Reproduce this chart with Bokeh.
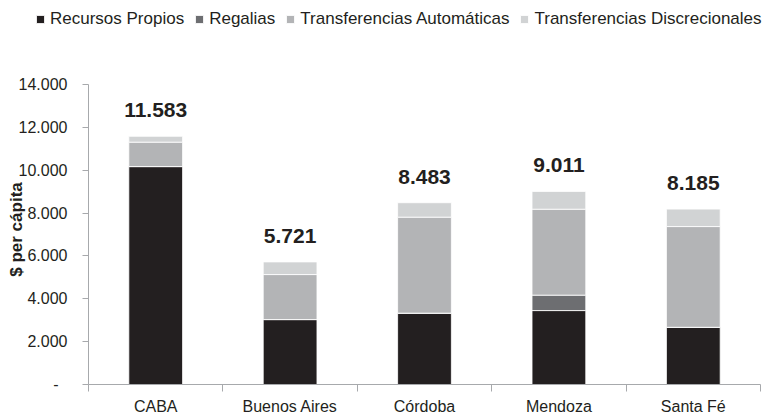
import math
from bokeh.plotting import figure
from bokeh.models import (Range1d, FixedTicker, Legend, LegendItem, Label,
                          LabelSet, ColumnDataSource)
from bokeh.core.properties import value
from bokeh.embed import file_html
from bokeh.resources import INLINE

categories = ["CABA", "Buenos Aires", "Córdoba", "Mendoza", "Santa Fé"]
recursos_propios = [10170, 3030, 3330, 3450, 2670]
regalias = [0, 0, 0, 720, 0]
transf_automaticas = [1140, 2100, 4480, 4010, 4700]
transf_discrecionales = [273, 591, 673, 831, 815]
totales = [11583, 5721, 8483, 9011, 8185]
total_labels = ["11.583", "5.721", "8.483", "9.011", "8.185"]
y_ticks = [0, 2000, 4000, 6000, 8000, 10000, 12000, 14000]
y_tick_labels = ["-\u00a0\u00a0", "2.000", "4.000", "6.000", "8.000", "10.000", "12.000", "14.000"]
y_max = 14000

series_names = ["Recursos Propios", "Regalias", "Transferencias Automáticas",
                "Transferencias Discrecionales"]
colors = ["#231F20", "#6D6E71", "#B3B4B6", "#D1D3D4"]
FONT = "Liberation Sans"
TXT = "#231F20"
AXIS = "#A7A9AC"

# layout (pixels): plot area from x=88..760, y=84..384 on a 780x416 canvas
W, H = 780, 416
L, R, T, B = 88, 760, 84, 384
n = len(categories)
px_x = (R - L) / n
px_y = (B - T) / y_max
x_range = Range1d(-L / px_x, n + (W - R) / px_x)
y_range = Range1d(-(H - B) / px_y, y_max + T / px_y)

xs = [i + 0.5 for i in range(n)]
src = ColumnDataSource(dict(x=xs, rp=recursos_propios, rg=regalias,
                            ta=transf_automaticas, td=transf_discrecionales,
                            tot=totales, lab=total_labels))

p = figure(width=W, height=H, output_backend="svg", toolbar_location=None,
           x_range=x_range, y_range=y_range,
           min_border=0, min_border_left=0, min_border_right=0,
           min_border_top=0, min_border_bottom=0)
p.outline_line_color = None
p.xgrid.visible = False
p.ygrid.visible = False
p.background_fill_color = "white"

rends = p.vbar_stack(["rp", "rg", "ta", "td"], x="x", width=0.4, source=src,
                     fill_color=colors, line_color="white", line_width=0.8)

labels = LabelSet(x="x", y="tot", text="lab", source=src, y_offset=19,
                  text_align="center", text_baseline="alphabetic",
                  text_font=value(FONT), text_font_size="21px",
                  text_font_style="bold", text_color=TXT)
p.add_layout(labels)

# x axis
xa = p.xaxis[0]
xa.fixed_location = 0
xa.bounds = (0, n)
xa.ticker = FixedTicker(ticks=xs, minor_ticks=list(range(n + 1)))
xa.major_label_overrides = {x: c for x, c in zip(xs, categories)}
xa.major_tick_line_color = None
xa.major_tick_out = 0
xa.major_tick_in = 0
xa.minor_tick_out = 7
xa.minor_tick_in = 0
xa.minor_tick_line_color = AXIS
xa.axis_line_color = AXIS
xa.major_label_text_font = FONT
xa.major_label_text_font_size = "16px"
xa.major_label_text_color = TXT
xa.major_label_standoff = 6

# y axis
ya = p.yaxis[0]
ya.fixed_location = 0
ya.bounds = (0, y_max)
ya.ticker = FixedTicker(ticks=y_ticks, minor_ticks=[])
ya.major_label_overrides = {t: l for t, l in zip(y_ticks, y_tick_labels)}
ya.major_tick_out = 6
ya.major_tick_in = 0
ya.major_tick_line_color = AXIS
ya.axis_line_color = AXIS
ya.major_label_text_font = FONT
ya.major_label_text_font_size = "16px"
ya.major_label_text_color = TXT
ya.major_label_standoff = 15

ylab = Label(x=16, y=H - 229, x_units="screen", y_units="screen",
             text="$ per cápita", angle=math.pi / 2, text_align="center",
             text_baseline="middle", text_font=FONT, text_font_size="17px",
             text_font_style="bold", text_color=TXT)
p.add_layout(ylab)

legend = Legend(items=[LegendItem(label=nm, renderers=[r]) for nm, r in zip(series_names, rends)],
                location=(35, H - 29), orientation="horizontal",
                glyph_width=10, glyph_height=10, label_standoff=5, spacing=10,
                padding=0, margin=0, border_line_color=None,
                background_fill_alpha=0, label_text_font=FONT,
                label_text_font_size="17px", label_text_color=TXT)
p.add_layout(legend)

open("out.html", "w").write(file_html(p, INLINE))
